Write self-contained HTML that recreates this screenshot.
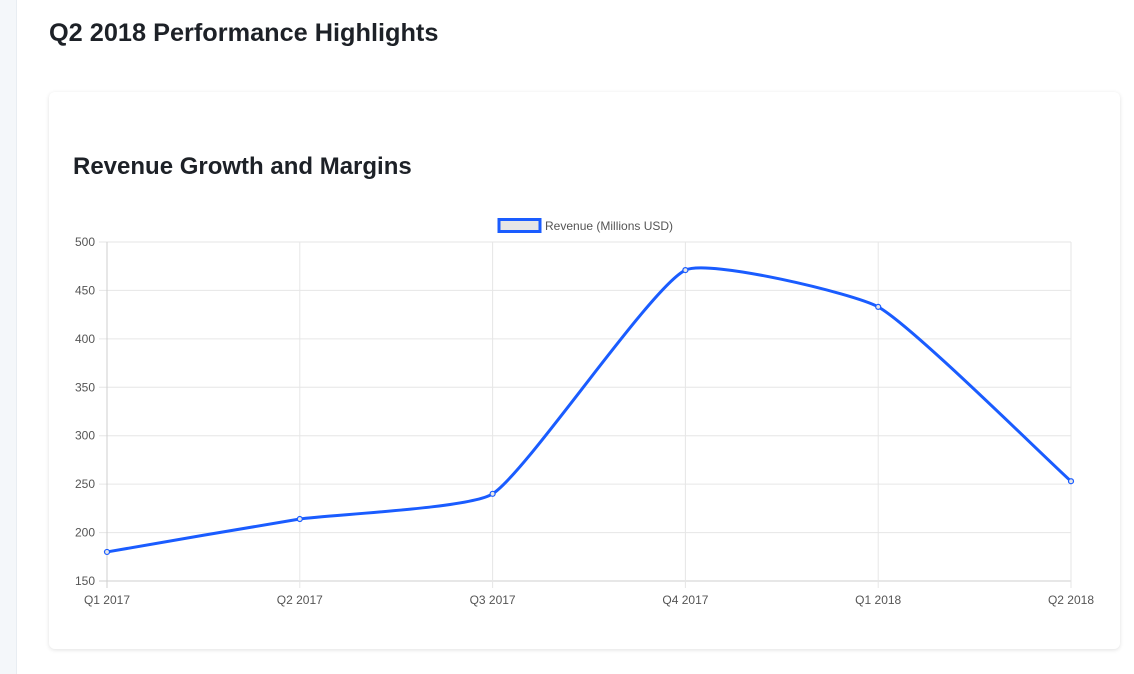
<!DOCTYPE html>
<html><head><meta charset="utf-8"><style>
body{margin:0;width:1134px;height:674px;background:#fff;font-family:"Liberation Sans",sans-serif;position:relative;overflow:hidden}
.side{position:absolute;left:0;top:0;width:16px;height:674px;background:#f4f7fa;border-right:1px solid #e8edf2}
h1{position:absolute;left:49px;top:19px;margin:0;font-size:25.3px;font-weight:bold;color:#1d2127}
.card{position:absolute;left:49px;top:92px;width:1071px;height:557px;background:#fff;border-radius:6px;box-shadow:0 1px 4px rgba(0,0,0,.12)}
h2{position:absolute;left:73px;top:153px;margin:0;font-size:24px;font-weight:bold;color:#1d2127}
svg{position:absolute;left:0;top:0}
</style></head><body>
<div class="side"></div>
<h1>Q2 2018 Performance Highlights</h1>
<div class="card"></div>
<h2>Revenue Growth and Margins</h2>
<svg id="c" width="1134" height="674"></svg>
<script>
const categories=["Q1 2017","Q2 2017","Q3 2017","Q4 2017","Q1 2018","Q2 2018"];
const revenue=[180,214,240,471,433,253];
const yTicks=[150,200,250,300,350,400,450,500];
const X0=107,X1=1071,Y0=581,Y1=242,YMIN=150,YMAX=500;
const xs=i=>X0+i*(X1-X0)/(categories.length-1);
const ys=v=>Y0-(v-YMIN)/(YMAX-YMIN)*(Y0-Y1);
const s=document.getElementById('c');const NS="http://www.w3.org/2000/svg";
function mk(t,a,p){const e=document.createElementNS(NS,t);for(const k in a)e.setAttribute(k,a[k]);(p||s).appendChild(e);return e;}
yTicks.forEach(v=>{
 const g=mk('line',{x1:99,x2:X1,y1:ys(v),y2:ys(v),stroke:v===YMIN?'#cfcfcf':'#e6e6e6'});
 
 
 const t=mk('text',{x:95,y:ys(v)+4,'text-anchor':'end','font-size':12,fill:'#555','font-family':'Liberation Sans'});t.textContent=v;
 
 
});
categories.forEach((c,i)=>{
 const g=mk('line',{x1:xs(i),x2:xs(i),y1:Y1,y2:Y0+7,stroke:i===0?'#cfcfcf':'#e6e6e6'});
 
 
 const t=mk('text',{x:xs(i),y:Y0+23,'text-anchor':'middle','font-size':12,fill:'#555','font-family':'Liberation Sans'});t.textContent=c;
 
 
});
const pts=revenue.map((v,i)=>[xs(i),ys(v)]);const T=0.15;
function cp(p0,p1,p2){const d01=Math.hypot(p1[0]-p0[0],p1[1]-p0[1]),d12=Math.hypot(p2[0]-p1[0],p2[1]-p1[1]);const fa=T*d01/(d01+d12),fb=T*d12/(d01+d12);return[[p1[0]-fa*(p2[0]-p0[0]),p1[1]-fa*(p2[1]-p0[1])],[p1[0]+fb*(p2[0]-p0[0]),p1[1]+fb*(p2[1]-p0[1])]];}
const cps=pts.map((p,i)=>cp(pts[Math.max(0,i-1)],p,pts[Math.min(pts.length-1,i+1)]));
let d=`M${pts[0][0]},${pts[0][1]}`;
for(let i=1;i<pts.length;i++){d+=` C${cps[i-1][1][0]},${cps[i-1][1][1]} ${cps[i][0][0]},${cps[i][0][1]} ${pts[i][0]},${pts[i][1]}`;}
const ln=mk('path',{d:d,fill:'none',stroke:'#1a5cff','stroke-width':3});


pts.forEach(p=>{const c=mk('circle',{cx:p[0],cy:p[1],r:2.5,fill:'#e6e6e6',stroke:'#1a5cff','stroke-width':1.2});
 
 });
const lb=mk('rect',{x:499,y:219.5,width:41,height:12,fill:'#e6e6e6',stroke:'#1a5cff','stroke-width':3});


const lt=mk('text',{x:545,y:230,'font-size':12,fill:'#555','font-family':'Liberation Sans'});lt.textContent='Revenue (Millions USD)';


</script>
</body></html>
